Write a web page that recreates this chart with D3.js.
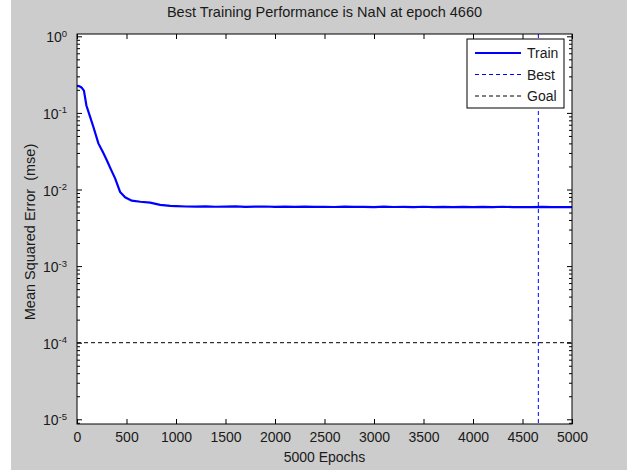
<!DOCTYPE html>
<html>
<head>
<meta charset="utf-8">
<script src="https://cdn.jsdelivr.net/npm/d3@7"></script>
<style>
body { margin: 0; background: #fff; }
text { font-family: "Liberation Sans", Arial, sans-serif; fill: #1a1a1a; white-space: pre; }
</style>
</head>
<body>
<script>
// training record
var trainEpochs = [0, 20, 45, 70, 95, 130, 165, 216, 260, 300, 340, 385, 435, 486, 553, 640, 739, 840, 941,
    1000, 1100, 1200, 1300, 1400, 1500, 1600, 1700, 1800, 1900, 2000, 2100, 2200, 2300, 2400, 2500,
    2600, 2700, 2800, 2900, 3000, 3100, 3200, 3300, 3400, 3500, 3600, 3700, 3800, 3900, 4000,
    4100, 4200, 4300, 4400, 4500, 4600, 4700, 4800, 4900, 5000];
var trainMse = [0.226, 0.224, 0.215, 0.195, 0.125, 0.091, 0.066, 0.040, 0.031, 0.0243, 0.0186, 0.014, 0.0093, 0.0079, 0.00714, 0.00692, 0.00673, 0.0063, 0.0061,
    0.00605, 0.00600, 0.00598, 0.00603, 0.00595, 0.00597, 0.00601, 0.00594, 0.00596, 0.00600, 0.00593, 0.00597, 0.00594, 0.00599, 0.00592, 0.00595,
    0.00591, 0.00597, 0.00592, 0.00594, 0.00590, 0.00596, 0.00591, 0.00593, 0.00589, 0.00595, 0.00590, 0.00592, 0.00588, 0.00594, 0.00589,
    0.00593, 0.00588, 0.00595, 0.00589, 0.00591, 0.00587, 0.00594, 0.00588, 0.00591, 0.00587];
var bestEpoch = 4660;
var goalMse = 1e-4;
var xTicks = [0, 500, 1000, 1500, 2000, 2500, 3000, 3500, 4000, 4500, 5000];
var yExponents = [0, -1, -2, -3, -4, -5];
var legendLabels = ["Train", "Best", "Goal"];
var titleText = "Best Training Performance is NaN at epoch 4660";
var xLabel = "5000 Epochs";
var yLabel = "Mean Squared Error  (mse)";

var W = 627, H = 472;
var pL = 77, pR = 572, pT = 34, pB = 424;
var fs = "14px";

var svg = d3.select("body").append("svg")
    .attr("width", W)
    .attr("height", H);

svg.append("rect")
    .attr("x", 11).attr("y", 0)
    .attr("width", W - 11).attr("height", 470)
    .attr("fill", "#cccccc");

var x = d3.scaleLinear().domain([0, 5000]).range([pL, pR]);

// decades sit a little inside the box
var y = d3.scaleLog().domain([1e-5, 1]).range([419.3, 36.3]);
y.domain([y.invert(pB), y.invert(pT)]).range([pB, pT]);

svg.append("rect")
    .attr("x", pL).attr("y", pT)
    .attr("width", pR - pL).attr("height", pB - pT)
    .attr("fill", "#fff");

svg.append("clipPath").attr("id", "clip")
    .append("rect")
    .attr("x", pL).attr("y", pT)
    .attr("width", pR - pL).attr("height", pB - pT);

var majorY = yExponents.map(e => Math.pow(10, e));
var minorY = [];
yExponents.forEach(function(e) {
    for (var k = 2; k <= 9; k++) minorY.push(k * Math.pow(10, e - 1));
});
minorY = minorY.filter(v => y(v) >= pT && y(v) <= pB);

function noDomain(g) { g.select(".domain").remove(); }

// x axes (ticks pointing in)
svg.append("g")
    .attr("transform", `translate(0,${pB})`)
    .call(d3.axisBottom(x).tickValues(xTicks).tickFormat(d3.format("d")).tickSizeInner(-5).tickSizeOuter(0).tickPadding(8))
    .call(noDomain)
    .call(g => g.selectAll("text").attr("font-size", fs).attr("font-family", null).attr("fill", "#1a1a1a"));
svg.append("g")
    .attr("transform", `translate(0,${pT})`)
    .call(d3.axisTop(x).tickValues(xTicks).tickSizeInner(-5).tickSizeOuter(0).tickFormat(""))
    .call(noDomain);

// y axes
var yLeft = svg.append("g")
    .attr("transform", `translate(${pL},0)`)
    .call(d3.axisLeft(y).tickValues(majorY).tickSizeInner(-5).tickSizeOuter(0).tickPadding(10))
    .call(noDomain);
yLeft.selectAll(".tick text").each(function(d) {
    var t = d3.select(this).text("").attr("font-size", fs).attr("font-family", null)
        .attr("fill", "#1a1a1a").attr("dy", "0.4em");
    t.append("tspan").text("10");
    t.append("tspan").attr("dy", "-0.6em").attr("font-size", "9.5px").text(Math.round(Math.log10(d)));
});
svg.append("g")
    .attr("transform", `translate(${pL},0)`)
    .call(d3.axisLeft(y).tickValues(minorY).tickSizeInner(-3).tickSizeOuter(0).tickFormat(""))
    .call(noDomain);
svg.append("g")
    .attr("transform", `translate(${pR},0)`)
    .call(d3.axisRight(y).tickValues(majorY).tickSizeInner(-5).tickSizeOuter(0).tickFormat(""))
    .call(noDomain);
svg.append("g")
    .attr("transform", `translate(${pR},0)`)
    .call(d3.axisRight(y).tickValues(minorY).tickSizeInner(-3).tickSizeOuter(0).tickFormat(""))
    .call(noDomain);

var plot = svg.append("g").attr("clip-path", "url(#clip)");

// goal
plot.append("line")
    .attr("x1", pL).attr("x2", pR)
    .attr("y1", y(goalMse)).attr("y2", y(goalMse))
    .attr("stroke", "#000").attr("stroke-width", 1)
    .attr("stroke-dasharray", "4,3");

// best
plot.append("line")
    .attr("x1", x(bestEpoch)).attr("x2", x(bestEpoch))
    .attr("y1", pT).attr("y2", pB)
    .attr("stroke", "#0000ff").attr("stroke-width", 1)
    .attr("stroke-dasharray", "4,3");

var line = d3.line()
    .x((d, i) => x(trainEpochs[i]))
    .y(d => y(d));

plot.append("path")
    .datum(trainMse)
    .attr("d", line)
    .attr("fill", "none")
    .attr("stroke", "#0000ff")
    .attr("stroke-width", 2.2);

// frame
svg.append("rect")
    .attr("x", pL).attr("y", pT)
    .attr("width", pR - pL).attr("height", pB - pT)
    .attr("fill", "none").attr("stroke", "#000").attr("stroke-width", 1);

// legend
var lg = svg.append("g").attr("transform", "translate(467,39)");
lg.append("rect")
    .attr("width", 97).attr("height", 69)
    .attr("fill", "#fff").attr("stroke", "#000");
var styles = [
    { color: "#0000ff", w: 2.2, dash: null },
    { color: "#0000ff", w: 1, dash: "4,3" },
    { color: "#000", w: 1, dash: "4,3" }
];
legendLabels.forEach(function(name, i) {
    var yy = 14 + i * 21.5;
    lg.append("line")
        .attr("x1", 8).attr("x2", 54)
        .attr("y1", yy).attr("y2", yy)
        .attr("stroke", styles[i].color)
        .attr("stroke-width", styles[i].w)
        .attr("stroke-dasharray", styles[i].dash);
    lg.append("text")
        .attr("x", 60).attr("y", yy + 5)
        .attr("font-size", fs)
        .text(name);
});

svg.append("text")
    .attr("x", (pL + pR) / 2).attr("y", 17)
    .attr("text-anchor", "middle")
    .attr("font-size", "14.5px")
    .text(titleText);

svg.append("text")
    .attr("x", (pL + pR) / 2).attr("y", 462)
    .attr("text-anchor", "middle")
    .attr("font-size", fs)
    .text(xLabel);

svg.append("text")
    .attr("transform", `translate(35,${(pT + pB) / 2 + 3}) rotate(-90)`)
    .attr("text-anchor", "middle")
    .attr("font-size", "14.5px")
    .text(yLabel);
</script>
</body>
</html>
